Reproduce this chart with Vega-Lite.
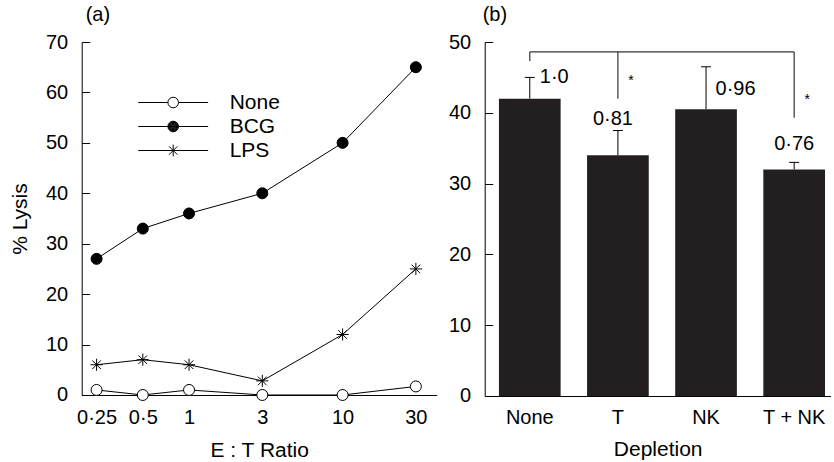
{
  "$schema": "https://vega.github.io/schema/vega-lite/v6.json",
  "padding": {"left": 8.7, "top": 5, "right": 0, "bottom": 0},
  "config": {
    "font": "Liberation Sans",
    "view": {"stroke": null},
    "axis": {"domainColor": "#000", "tickColor": "#000", "labelColor": "#000", "titleColor": "#000", "grid": false, "labelFontSize": 20, "titleFontSize": 21, "titleFontWeight": "normal", "domainWidth": 1, "tickWidth": 1},
    "title": {"fontSize": 20, "fontWeight": "normal", "anchor": "start", "frame": "group", "color": "#000"},
    "concat": {"spacing": 11}
  },
  "hconcat": [
    {
      "width": 355,
      "height": 353,
      "title": {"text": "(a)", "dx": 4, "offset": -9, "baseline": "alphabetic"},
      "data": {"values": [
        {"ratio": 0.25, "series": "None", "lysis": 1},
        {"ratio": 0.5, "series": "None", "lysis": 0},
        {"ratio": 1, "series": "None", "lysis": 1},
        {"ratio": 3, "series": "None", "lysis": 0},
        {"ratio": 10, "series": "None", "lysis": 0},
        {"ratio": 30, "series": "None", "lysis": 1.7},
        {"ratio": 0.25, "series": "BCG", "lysis": 27},
        {"ratio": 0.5, "series": "BCG", "lysis": 33},
        {"ratio": 1, "series": "BCG", "lysis": 36},
        {"ratio": 3, "series": "BCG", "lysis": 40},
        {"ratio": 10, "series": "BCG", "lysis": 50},
        {"ratio": 30, "series": "BCG", "lysis": 65},
        {"ratio": 0.25, "series": "LPS", "lysis": 6},
        {"ratio": 0.5, "series": "LPS", "lysis": 7},
        {"ratio": 1, "series": "LPS", "lysis": 6},
        {"ratio": 3, "series": "LPS", "lysis": 2.8},
        {"ratio": 10, "series": "LPS", "lysis": 12},
        {"ratio": 30, "series": "LPS", "lysis": 25}
      ]},
      "layer": [
        {
          "mark": {"type": "line", "color": "#000", "strokeWidth": 1},
          "encoding": {
            "x": {"field": "ratio", "type": "quantitative", "title": "E : T Ratio",
              "scale": {"type": "log", "domain": [0.2, 41], "nice": false},
              "axis": {"values": [0.25, 0.5, 1, 3, 10, 30], "labelExpr": "replace(toString(datum.value), '.', '·')", "ticks": false, "labelPadding": 13, "titlePadding": 12, "labelFlush": false, "labelOverlap": false}},
            "y": {"field": "lysis", "type": "quantitative", "title": "% Lysis",
              "scale": {"domain": [0, 70], "nice": false},
              "axis": {"values": [0, 10, 20, 30, 40, 50, 60, 70], "tickSize": -8, "labelPadding": 22, "titlePadding": 15}},
            "detail": {"field": "series"}
          }
        },
        {
          "mark": {"type": "point", "stroke": "#000", "strokeWidth": 1, "opacity": 1, "size": 121},
          "encoding": {
            "x": {"field": "ratio", "type": "quantitative"},
            "y": {"field": "lysis", "type": "quantitative"},
            "shape": {"field": "series", "type": "nominal", "legend": null,
              "scale": {"domain": ["None", "BCG", "LPS"], "range": [
                "M-1,0A1,1,0,1,1,1,0A1,1,0,1,1,-1,0Z",
                "M-1,0A1,1,0,1,1,1,0A1,1,0,1,1,-1,0Z",
                "M-1.1,0L1.1,0M0,-1.1L0,1.1M-0.78,-0.78L0.78,0.78M-0.78,0.78L0.78,-0.78"]}},
            "fill": {"field": "series", "type": "nominal", "legend": null,
              "scale": {"domain": ["None", "BCG", "LPS"], "range": ["#ffffff", "#000000", "#000000"]}}
          }
        },
        {
          "transform": [{"filter": "false"}],
          "mark": {"type": "point", "stroke": "#000", "strokeWidth": 1, "opacity": 1, "size": 112},
          "encoding": {
            "shape": {"field": "series", "type": "nominal",
              "scale": {"domain": ["None", "BCG", "LPS"], "range": [
                "M-6.6,0L-1,0M1,0L6.6,0M-1,0A1,1,0,1,1,1,0A1,1,0,1,1,-1,0Z",
                "M-6.6,0L6.6,0M-1,0A1,1,0,1,1,1,0A1,1,0,1,1,-1,0ZM-0.9,0A0.9,0.9,0,1,1,0.9,0A0.9,0.9,0,1,1,-0.9,0ZM-0.8,0A0.8,0.8,0,1,1,0.8,0A0.8,0.8,0,1,1,-0.8,0ZM-0.7,0A0.7,0.7,0,1,1,0.7,0A0.7,0.7,0,1,1,-0.7,0ZM-0.6,0A0.6,0.6,0,1,1,0.6,0A0.6,0.6,0,1,1,-0.6,0ZM-0.5,0A0.5,0.5,0,1,1,0.5,0A0.5,0.5,0,1,1,-0.5,0ZM-0.4,0A0.4,0.4,0,1,1,0.4,0A0.4,0.4,0,1,1,-0.4,0ZM-0.3,0A0.3,0.3,0,1,1,0.3,0A0.3,0.3,0,1,1,-0.3,0ZM-0.2,0A0.2,0.2,0,1,1,0.2,0A0.2,0.2,0,1,1,-0.2,0ZM-0.1,0A0.1,0.1,0,1,1,0.1,0A0.1,0.1,0,1,1,-0.1,0Z",
                "M-6.6,0L6.6,0M0,-1.1L0,1.1M-0.78,-0.78L0.78,0.78M-0.78,0.78L0.78,-0.78"]},
              "legend": {"orient": "none", "legendX": 81, "legendY": 50, "title": null, "labelFontSize": 21, "labelColor": "#000", "symbolSize": 112, "symbolStrokeWidth": 1, "symbolStrokeColor": "#000", "symbolFillColor": "transparent", "symbolOpacity": 1, "labelOffset": 46, "rowPadding": 2, "padding": 0}}
          }
        }
      ],
      "resolve": {"scale": {"shape": "independent"}}
    },
    {
      "width": 346,
      "height": 354,
      "title": {"text": "(b)", "dx": -2, "offset": -9, "baseline": "alphabetic"},
      "data": {"values": [
        {"group": "None", "lysis": 42, "err": 45, "ratio": "1·0"},
        {"group": "T", "lysis": 34, "err": 37.5, "ratio": "0·81"},
        {"group": "NK", "lysis": 40.5, "err": 46.5, "ratio": "0·96"},
        {"group": "T + NK", "lysis": 32, "err": 33, "ratio": "0·76"}
      ]},
      "layer": [
        {
          "mark": {"type": "bar", "color": "#231f20"},
          "encoding": {
            "x": {"field": "group", "type": "nominal", "title": "Depletion",
              "scale": {"domain": ["None", "T", "NK", "T + NK"], "paddingInner": 0.3, "paddingOuter": 0.113, "align": 0.715},
              "axis": {"labelAngle": 0, "ticks": false, "labelPadding": 12, "titlePadding": 11}},
            "y": {"field": "lysis", "type": "quantitative", "title": null,
              "scale": {"domain": [0, 50], "nice": false},
              "axis": {"values": [0, 10, 20, 30, 40, 50], "tickSize": -8, "labelPadding": 22}}
          }
        },
        {
          "mark": {"type": "rule", "color": "#000", "strokeWidth": 1},
          "encoding": {
            "x": {"field": "group", "type": "nominal"},
            "y": {"field": "lysis", "type": "quantitative"},
            "y2": {"field": "err"}
          }
        },
        {
          "mark": {"type": "tick", "color": "#000", "thickness": 1, "size": 10, "orient": "horizontal", "opacity": 1},
          "encoding": {
            "x": {"field": "group", "type": "nominal"},
            "y": {"field": "err", "type": "quantitative"}
          }
        },
        {
          "transform": [{"filter": "datum.group === 'None'"}],
          "mark": {"type": "text", "align": "left", "baseline": "alphabetic", "fontSize": 20, "dx": 10, "dy": 6, "color": "#000"},
          "encoding": {"x": {"field": "group", "type": "nominal"}, "y": {"field": "err", "type": "quantitative"}, "text": {"field": "ratio"}}
        },
        {
          "transform": [{"filter": "datum.group === 'T'"}],
          "mark": {"type": "text", "align": "center", "baseline": "alphabetic", "fontSize": 20, "dx": -5, "dy": -6, "color": "#000"},
          "encoding": {"x": {"field": "group", "type": "nominal"}, "y": {"field": "err", "type": "quantitative"}, "text": {"field": "ratio"}}
        },
        {
          "transform": [{"filter": "datum.group === 'NK'"}],
          "mark": {"type": "text", "align": "left", "baseline": "alphabetic", "fontSize": 20, "dx": 9.5, "dy": 28, "color": "#000"},
          "encoding": {"x": {"field": "group", "type": "nominal"}, "y": {"field": "err", "type": "quantitative"}, "text": {"field": "ratio"}}
        },
        {
          "transform": [{"filter": "datum.group === 'T + NK'"}],
          "mark": {"type": "text", "align": "center", "baseline": "alphabetic", "fontSize": 20, "dx": 0, "dy": -12, "color": "#000"},
          "encoding": {"x": {"field": "group", "type": "nominal"}, "y": {"field": "err", "type": "quantitative"}, "text": {"field": "ratio"}}
        },
        {
          "data": {"values": [{"from": "None", "to": "T + NK", "top": 48.6}]},
          "mark": {"type": "rule", "color": "#333", "strokeWidth": 1.2},
          "encoding": {
            "x": {"field": "from", "type": "nominal"},
            "x2": {"field": "to"},
            "y": {"field": "top", "type": "quantitative"}
          }
        },
        {
          "data": {"values": [
            {"group": "None", "top": 48.6, "bottom": 47.3, "sig": ""},
            {"group": "T", "top": 48.6, "bottom": 42, "sig": "*"},
            {"group": "T + NK", "top": 48.6, "bottom": 39.3, "sig": "*"}
          ]},
          "layer": [
            {
              "mark": {"type": "rule", "color": "#333", "strokeWidth": 1.2},
              "encoding": {
                "x": {"field": "group", "type": "nominal"},
                "y": {"field": "top", "type": "quantitative"},
                "y2": {"field": "bottom"}
              }
            },
            {
              "mark": {"type": "text", "align": "center", "baseline": "alphabetic", "fontSize": 14, "dx": 13, "dy": -14, "color": "#000"},
              "encoding": {
                "x": {"field": "group", "type": "nominal"},
                "y": {"field": "bottom", "type": "quantitative"},
                "text": {"field": "sig"}
              }
            }
          ]
        }
      ]
    }
  ]
}
